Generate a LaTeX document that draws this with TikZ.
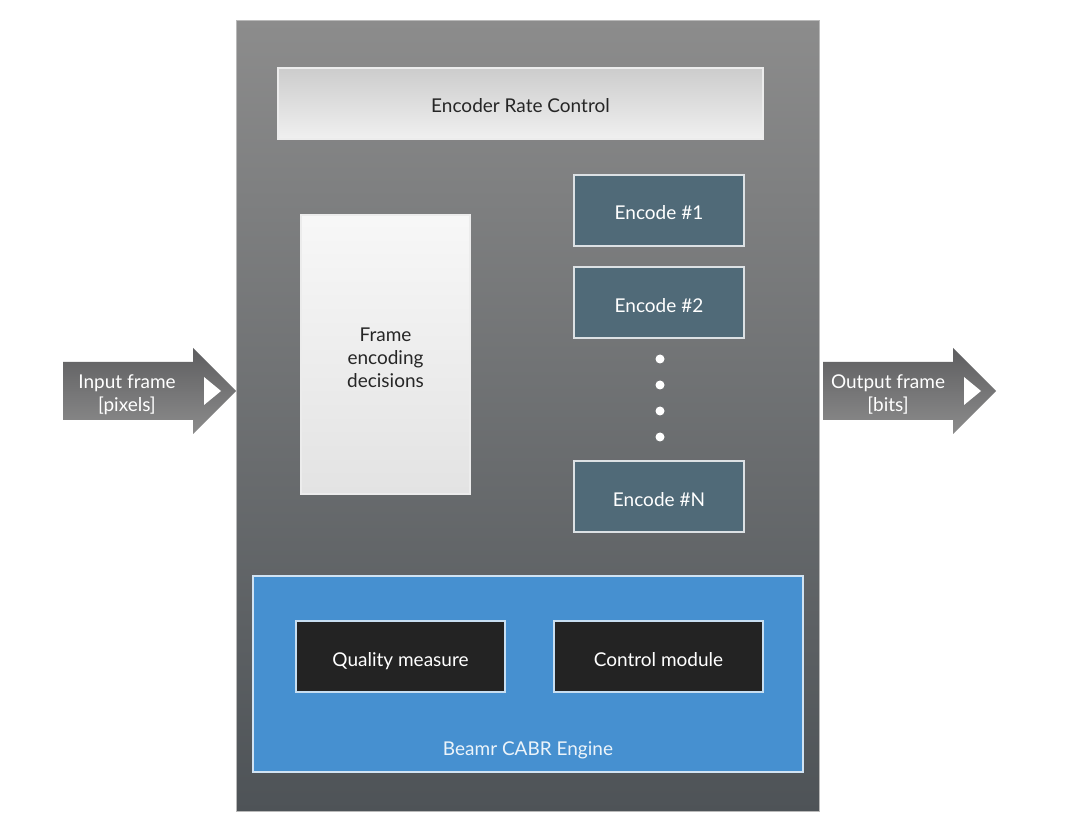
\documentclass[tikz,border=0pt]{standalone}
\usepackage{fontspec}
\setmainfont{Lato}
\usepackage{xcolor}
\definecolor{mainTop}{HTML}{8C8C8C}
\definecolor{mainBot}{HTML}{4E5357}
\definecolor{encFill}{HTML}{506A78}
\definecolor{cabrFill}{HTML}{4690D0}
\definecolor{darkFill}{HTML}{232323}
\definecolor{arrTop}{HTML}{5E5E60}
\definecolor{arrBot}{HTML}{8C8C8C}

\begin{document}
\begin{tikzpicture}[x=1pt, y=-1pt,
  box/.style={rectangle, draw, align=center, inner sep=0pt, text height=19pt, text depth=0pt, font=\fontsize{19}{23}\selectfont},
  lightbox/.style={box, top color=gray!40!white, bottom color=gray!12!white, draw=white!85!gray, line width=2pt, text=black!85},
  tallbox/.style={rectangle, inner sep=0pt, font=\fontsize{19}{23}\selectfont, top color=white!94!gray, bottom color=white!78!gray, draw=white!85!gray, line width=2pt, text=black!85},
  encbox/.style={box, fill=encFill, draw=white!80!encFill, line width=2pt, minimum width=170, minimum height=71, text=white},
  darkbox/.style={box, fill=darkFill, draw=white!70!cabrFill, line width=2pt, minimum width=209, minimum height=71, text=white},
  dot/.style={circle, fill=white, inner sep=0pt, minimum size=9},
  arrlabel/.style={align=center, text=white, font=\fontsize{19}{23}\selectfont}
]
\useasboundingbox (0,0) rectangle (1080,834);
\fill[white] (0,0) rectangle (1080,834);
% outer block
\node[box, top color=mainTop, bottom color=mainBot, draw=gray!55!white, line width=1.5pt,
  minimum width=583, minimum height=791] (main) at (528,416) {};
\node[lightbox, minimum width=485, minimum height=71] (rate) at (520.5,103.5) {Encoder Rate Control};
\node[tallbox, minimum width=169, minimum height=279] (frame) at (385.5,354.5)
  {\raisebox{0pt}[\dimexpr\height+10pt\relax][\depth]{\begin{tabular}{@{}c@{}}Frame\\encoding\\decisions\end{tabular}}};
\node[encbox] (enc1) at (659,210.5) {Encode \#1};
\node[encbox] (enc2) at (659,303) {Encode \#2};
\foreach \i/\y in {1/359,2/385,3/411,4/437}
  \node[dot] (dot\i) at (660,\y) {};
\node[encbox] (encN) at (659,496.5) {Encode \#N};
% engine
\node[box, fill=cabrFill, draw=white!75!cabrFill, line width=2pt,
  minimum width=550, minimum height=196] (cabr) at (528,674) {};
\node[darkbox] (qual) at (400.5,656.5) {Quality measure};
\node[darkbox] (ctrl) at (658.5,656.5) {Control module};
\node[font=\fontsize{19}{23}\selectfont, text height=19pt, text depth=0pt, inner sep=0pt,
  text=white!90!cabrFill] (cabrlbl) at (528,746) {Beamr CABR Engine};
% in / out arrows
\shade[top color=arrTop, bottom color=arrBot] (63,362) -- (193,362) -- (193,348) -- (236,391)
  -- (193,434) -- (193,420) -- (63,420) -- cycle;
\fill[white] (204,377) -- (221,391) -- (204,405) -- cycle;
\node[arrlabel] (inlbl) at (127,394.5) {Input frame\\{[}pixels{]}};
\shade[top color=arrTop, bottom color=arrBot] (823,362) -- (953,362) -- (953,348) -- (996,391)
  -- (953,434) -- (953,420) -- (823,420) -- cycle;
\fill[white] (964,377) -- (981,391) -- (964,405) -- cycle;
\node[arrlabel] (outlbl) at (888,394.5) {Output frame\\{[}bits{]}};
\end{tikzpicture}
\end{document}
